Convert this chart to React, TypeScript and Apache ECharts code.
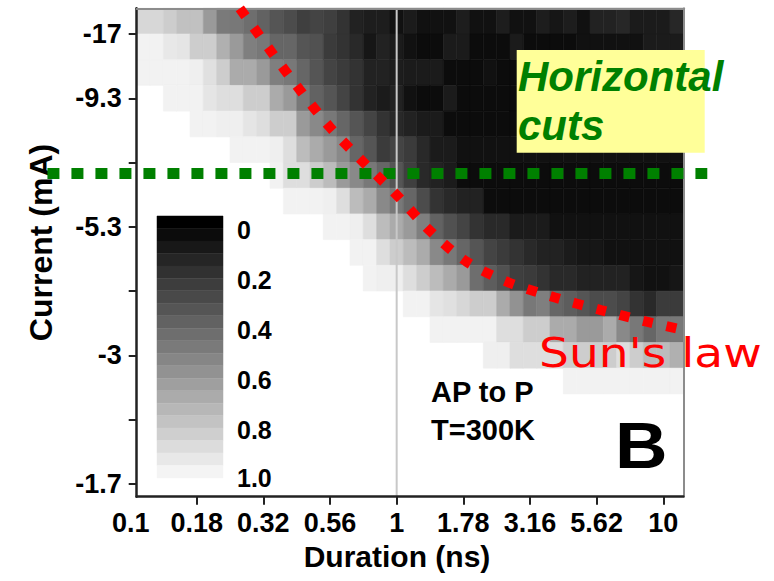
import React, { useEffect, useRef } from 'react';
import * as echarts from 'echarts';

// Pulse durations of the heat-map columns (ns)
const durationsNs = [
  0.1122, 0.1259, 0.1413, 0.1585, 0.1778, 0.1995, 0.2239, 0.2512, 0.2818, 0.3162,
  0.3548, 0.3981, 0.4467, 0.5012, 0.5623, 0.631, 0.7079, 0.7943, 0.8913, 1,
  1.122, 1.259, 1.413, 1.585, 1.778, 1.995, 2.239, 2.512, 2.818, 3.162,
  3.548, 3.981, 4.467, 5.012, 5.623, 6.31, 7.079, 7.943, 8.913, 10, 11.22,
];

// Probability per cell, first row = largest |current| (top), last row = smallest (bottom)
const probRows: number[][] = [
  [0.88,0.88,0.84,0.79,0.79,0.63,0.5,0.49,0.45,0.4,0.35,0.31,0.26,0.28,0.26,0.21,0.14,0.12,0.12,0.07,0.11,0.07,0.07,0.07,0.12,0.07,0.07,0.12,0.07,0.07,0.12,0.09,0.12,0.07,0.14,0.14,0.16,0.11,0.11,0.11,0.16],
  [0.99,0.99,0.95,0.94,0.84,0.84,0.72,0.63,0.52,0.49,0.42,0.42,0.35,0.33,0.24,0.21,0.17,0.09,0.14,0.11,0.07,0.05,0.05,0.11,0.11,0.05,0.05,0.05,0.11,0.05,0.05,0.05,0.05,0.07,0.07,0.07,0.07,0.07,0.11,0.11,0.11],
  [0.99,0.99,0.99,0.99,0.98,0.92,0.84,0.7,0.7,0.63,0.52,0.49,0.42,0.35,0.28,0.24,0.21,0.14,0.14,0.12,0.11,0.11,0.11,0.05,0.05,0.05,0.07,0.05,0.05,0.05,0.05,0.05,0.05,0.05,0.05,0.05,0.05,0.05,0.07,0.07,0.07],
  [1,1,0.99,0.99,0.99,0.94,0.91,0.91,0.84,0.84,0.7,0.63,0.49,0.4,0.35,0.28,0.21,0.14,0.11,0.14,0.07,0.05,0.05,0.11,0.05,0.05,0.05,0.05,0.05,0.05,0.05,0.05,0.05,0.05,0.05,0.05,0.05,0.05,0.05,0.05,0.05],
  [1,1,1,1,0.99,0.99,0.98,0.98,0.94,0.91,0.84,0.84,0.63,0.56,0.49,0.42,0.35,0.28,0.21,0.17,0.14,0.11,0.11,0.05,0.05,0.05,0.05,0.05,0.05,0.05,0.05,0.05,0.05,0.05,0.05,0.05,0.05,0.05,0.05,0.05,0.05],
  [1,1,1,1,1,1,1,0.99,0.99,0.99,0.98,0.91,0.77,0.7,0.63,0.56,0.42,0.35,0.24,0.28,0.24,0.17,0.11,0.11,0.07,0.07,0.07,0.07,0.07,0.07,0.07,0.07,0.07,0.07,0.07,0.07,0.07,0.07,0.07,0.07,0.07],
  [1,1,1,1,1,1,1,1,1,1,0.99,0.91,0.91,0.84,0.77,0.63,0.56,0.49,0.42,0.35,0.26,0.17,0.14,0.11,0.05,0.05,0.05,0.05,0.05,0.05,0.05,0.05,0.05,0.05,0.05,0.05,0.05,0.05,0.05,0.05,0.05],
  [1,1,1,1,1,1,1,1,1,1,1,0.99,0.99,0.99,0.98,0.91,0.77,0.7,0.56,0.49,0.42,0.31,0.21,0.17,0.14,0.14,0.05,0.05,0.05,0.05,0.05,0.05,0.05,0.05,0.05,0.05,0.05,0.05,0.05,0.05,0.05],
  [1,1,1,1,1,1,1,1,1,1,1,1,1,1,0.99,0.99,0.98,0.91,0.77,0.7,0.63,0.52,0.4,0.33,0.28,0.21,0.17,0.17,0.11,0.11,0.11,0.07,0.07,0.07,0.07,0.07,0.07,0.07,0.07,0.07,0.07],
  [1,1,1,1,1,1,1,1,1,1,1,1,1,1,1,1,0.99,0.99,0.91,0.84,0.77,0.7,0.56,0.49,0.42,0.35,0.28,0.24,0.21,0.17,0.14,0.14,0.11,0.09,0.09,0.07,0.07,0.07,0.07,0.07,0.07],
  [1,1,1,1,1,1,1,1,1,1,1,1,1,1,1,1,1,0.99,0.98,0.98,0.91,0.84,0.77,0.7,0.63,0.45,0.38,0.33,0.26,0.24,0.21,0.17,0.17,0.14,0.14,0.14,0.14,0.09,0.07,0.07,0.09],
  [1,1,1,1,1,1,1,1,1,1,1,1,1,1,1,1,1,1,1,1,0.99,0.99,0.94,0.92,0.88,0.84,0.84,0.7,0.6,0.49,0.52,0.42,0.38,0.35,0.31,0.31,0.28,0.21,0.17,0.24,0.24],
  [1,1,1,1,1,1,1,1,1,1,1,1,1,1,1,1,1,1,1,1,1,1,0.99,0.99,0.99,0.99,0.99,0.91,0.91,0.84,0.84,0.7,0.7,0.63,0.63,0.7,0.56,0.49,0.42,0.49,0.49],
  [1,1,1,1,1,1,1,1,1,1,1,1,1,1,1,1,1,1,1,1,1,1,1,1,1,1,0.98,0.98,0.91,0.91,0.91,0.91,0.84,0.84,0.84,0.84,0.91,0.84,0.77,0.77,0.72],
  [1,1,1,1,1,1,1,1,1,1,1,1,1,1,1,1,1,1,1,1,1,1,1,1,1,1,1,1,1,1,1,1,0.99,0.99,0.99,0.99,0.99,0.99,0.99,0.99,0.99],
  [1,1,1,1,1,1,1,1,1,1,1,1,1,1,1,1,1,1,1,1,1,1,1,1,1,1,1,1,1,1,1,1,1,1,1,1,1,1,1,1,1],
  [1,1,1,1,1,1,1,1,1,1,1,1,1,1,1,1,1,1,1,1,1,1,1,1,1,1,1,1,1,1,1,1,1,1,1,1,1,1,1,1,1],
  [1,1,1,1,1,1,1,1,1,1,1,1,1,1,1,1,1,1,1,1,1,1,1,1,1,1,1,1,1,1,1,1,1,1,1,1,1,1,1,1,1],
  [1,1,1,1,1,1,1,1,1,1,1,1,1,1,1,1,1,1,1,1,1,1,1,1,1,1,1,1,1,1,1,1,1,1,1,1,1,1,1,1,1],
];

// Tick labels
const xTickValuesNs = [0.1, 0.1778, 0.3162, 0.5623, 1, 1.778, 3.162, 5.623, 10];
const xTickLabels = ['0.1', '0.18', '0.32', '0.56', '1', '1.78', '3.16', '5.62', '10'];
const yTickRows = [0.5, 3, 5.5, 8, 10.5, 13, 15.5, 18];
const yLabelRows = [0.5, 5.5, 10.5, 15.5, 18];
const yTickLabels = ['-1.7', '-3', '-5.3', '-9.3', '-17'];

// Colour-bar steps and labels
const colorbarSteps = [0, 0.05, 0.1, 0.15, 0.2, 0.25, 0.3, 0.35, 0.4, 0.45, 0.5, 0.55, 0.6, 0.65, 0.7, 0.75, 0.8, 0.85, 0.9, 0.95, 1.0];
const colorbarLabels = ['0', '0.2', '0.4', '0.6', '0.8', '1.0'];
const colorbarLabelPos = [0.056, 0.256, 0.456, 0.656, 0.856, 1.05];

// Sun's law curve
const sunLawNs = [0.258, 0.337, 0.4315, 0.559, 0.7455, 1.0, 1.334, 1.83, 2.636, 3.926, 5.834, 8.66, 11.21];
const sunLawRow = [19.0, 17.34, 15.85, 14.4, 13.04, 11.74, 10.34, 9.14, 8.33, 7.75, 7.26, 6.81, 6.545];

// Horizontal cut and reference line
const cutRow = 12.57;
const cutFromNs = 0.049;
const cutToNs = 14.62;
const refDurationNs = 1;

const FONT = "'Liberation Sans', Arial, Helvetica, sans-serif";
const X_MIN = -0.975;
const X_MAX = 1.075;
const ROWS = 19;
const CELL_HALF = 0.025;

const gray = (v: number) => {
  const g = Math.round(244 * Math.max(0, Math.min(1, v)));
  return `rgb(${g},${g},${g})`;
};

export default function App() {
  const ref = useRef<HTMLDivElement>(null);

  useEffect(() => {
    if (!ref.current) return;
    const chart = echarts.init(ref.current, null, { renderer: 'svg' });

    const cells: number[][] = [];
    probRows.forEach((row, r) => {
      const yIndex = probRows.length - 1 - r;
      row.forEach((v, c) => {
        if (v < 1) cells.push([Math.log10(durationsNs[c]), yIndex, v]);
      });
    });

    const xLabelPos = xTickValuesNs.map((v) => Math.max(Math.log10(v), X_MIN));
    const xTickPos = xTickValuesNs.map((v) => Math.log10(v)).filter((v) => v > X_MIN + 1e-6);

    const tickFont = { fontSize: 27, fontWeight: 'bold' as const, color: '#000', fontFamily: FONT };

    const option: any = {
      animation: false,
      backgroundColor: '#fff',
      grid: [
        { left: 136.7, top: 8.3, width: 546.6, height: 488.4, containLabel: false },
        { left: 157, top: 216, width: 66, height: 262, containLabel: false },
      ],
      xAxis: [
        {
          gridIndex: 0, type: 'value', min: X_MIN, max: X_MAX, z: 10,
          splitLine: { show: false },
          axisLine: { show: true, onZero: false, lineStyle: { color: '#222', width: 2.5 } },
          axisTick: { show: true, customValues: xTickPos, length: 8, lineStyle: { color: '#222', width: 2 } },
          axisLabel: {
            customValues: xLabelPos, margin: 13, ...tickFont,
            formatter: (val: number) => {
              const j = xLabelPos.findIndex((p) => Math.abs(p - val) < 1e-6);
              if (j < 0) return '';
              return j === 0 ? `{first|${xTickLabels[0]}}` : xTickLabels[j];
            },
            rich: { first: { ...tickFont, padding: [0, 12, 0, 0] } },
          },
          name: 'Duration (ns)', nameLocation: 'middle', nameGap: 45,
          nameTextStyle: { fontSize: 30, fontWeight: 'bold', color: '#000', fontFamily: FONT, padding: [0, 26, 0, 0] },
        },
        {
          gridIndex: 0, type: 'value', min: X_MIN, max: X_MAX, position: 'top', z: 10,
          splitLine: { show: false }, axisTick: { show: false }, axisLabel: { show: false },
          axisLine: { show: true, onZero: false, lineStyle: { color: '#8c8c8c', width: 2 } },
        },
        { gridIndex: 1, type: 'value', min: 0, max: 1, show: false },
      ],
      yAxis: [
        {
          gridIndex: 0, type: 'value', min: 0, max: ROWS, z: 10,
          splitLine: { show: false },
          axisLine: { show: true, onZero: false, lineStyle: { color: '#222', width: 2.5 } },
          axisTick: { show: true, customValues: yTickRows, length: 8, lineStyle: { color: '#222', width: 2 } },
          axisLabel: {
            customValues: yLabelRows, margin: 15, ...tickFont,
            formatter: (val: number) => {
              const j = yLabelRows.findIndex((p) => Math.abs(p - val) < 1e-6);
              return j < 0 ? '' : yTickLabels[j];
            },
          },
          name: 'Current (mA)', nameLocation: 'middle', nameGap: 80,
          nameTextStyle: { fontSize: 32, fontWeight: 'bold', color: '#000', fontFamily: FONT, padding: [0, 0, 0, 20] },
        },
        {
          gridIndex: 0, type: 'value', min: 0, max: ROWS, position: 'right', z: 10,
          splitLine: { show: false }, axisTick: { show: false }, axisLabel: { show: false },
          axisLine: { show: true, onZero: false, lineStyle: { color: '#8c8c8c', width: 2 } },
        },
        {
          gridIndex: 1, type: 'value', min: 0, max: 1.05, inverse: true, position: 'right',
          splitLine: { show: false }, axisTick: { show: false }, axisLine: { show: false },
          axisLabel: {
            customValues: colorbarLabelPos, margin: 14, fontSize: 25, fontWeight: 'bold', color: '#000', fontFamily: FONT,
            formatter: (val: number) => {
              const j = colorbarLabelPos.findIndex((p) => Math.abs(p - val) < 1e-6);
              return j < 0 ? '' : colorbarLabels[j];
            },
          },
        },
      ],
      series: [
        {
          type: 'custom', xAxisIndex: 0, yAxisIndex: 0, z: 2,
          data: cells,
          renderItem: (params: any, api: any) => {
            const x = api.value(0);
            const y = api.value(1);
            const v = api.value(2);
            const p0 = api.coord([x - CELL_HALF, y + 1]);
            const p1 = api.coord([x + CELL_HALF, y]);
            const c = gray(v);
            return {
              type: 'rect',
              shape: { x: p0[0], y: p0[1], width: p1[0] - p0[0], height: p1[1] - p0[1] },
              style: { fill: c, stroke: c, lineWidth: 0.6 },
            };
          },
        },
        {
          type: 'line', xAxisIndex: 0, yAxisIndex: 0, z: 4, symbol: 'none', silent: true,
          data: [[Math.log10(refDurationNs), 0], [Math.log10(refDurationNs), ROWS]],
          lineStyle: { color: '#c8c8c8', width: 2 },
        },
        {
          type: 'line', xAxisIndex: 0, yAxisIndex: 0, z: 21, symbol: 'none', clip: false, silent: true, smooth: 0.3,
          data: sunLawNs.map((d, i) => [Math.log10(d), sunLawRow[i]]),
          lineStyle: { color: '#ff0000', width: 10, type: [10, 14], cap: 'butt' },
        },
        {
          type: 'custom', xAxisIndex: 2, yAxisIndex: 2, z: 5,
          data: colorbarSteps.map((v) => [v]),
          renderItem: (params: any, api: any) => {
            const v = api.value(0);
            const p0 = api.coord([0, v]);
            const p1 = api.coord([1, v + 0.05]);
            const c = gray(v);
            return {
              type: 'rect',
              shape: { x: p0[0], y: Math.min(p0[1], p1[1]), width: p1[0] - p0[0], height: Math.abs(p1[1] - p0[1]) },
              style: { fill: c, stroke: c, lineWidth: 0.5 },
            };
          },
        },
      ],
    };

    chart.setOption(option);

    // Horizontal cut line: it reaches beyond the plot, so map its data ends through the axes' scales
    const xa = chart.convertToPixel({ xAxisIndex: 0 }, X_MIN) as number;
    const xb = chart.convertToPixel({ xAxisIndex: 0 }, X_MAX) as number;
    const ya = chart.convertToPixel({ yAxisIndex: 0 }, 0) as number;
    const yb = chart.convertToPixel({ yAxisIndex: 0 }, ROWS) as number;
    const pxX = (xl: number) => xa + ((xl - X_MIN) / (X_MAX - X_MIN)) * (xb - xa);
    const pxY = (r: number) => ya + (r / ROWS) * (yb - ya);
    const cutY = pxY(cutRow);

    chart.setOption({
      graphic: [
        {
          type: 'line', z: 20, silent: true,
          shape: { x1: pxX(Math.log10(cutFromNs)), y1: cutY, x2: pxX(Math.log10(cutToNs)), y2: cutY },
          style: { stroke: '#008000', lineWidth: 11, lineDash: [12, 12], lineCap: 'butt' },
        },
        { type: 'rect', z: 30, shape: { x: 516.7, y: 50, width: 188, height: 102.7 }, style: { fill: '#ffff99' } },
        { type: 'text', z: 31, x: 518, y: 76, style: { text: 'Horizontal', fontSize: 42, fontWeight: 'bold', fontStyle: 'italic', fontFamily: FONT, fill: '#008000', align: 'left', verticalAlign: 'middle' } },
        { type: 'text', z: 31, x: 518, y: 125.5, style: { text: 'cuts', fontSize: 42, fontWeight: 'bold', fontStyle: 'italic', fontFamily: FONT, fill: '#008000', align: 'left', verticalAlign: 'middle' } },
        { type: 'text', z: 31, x: 539, y: 353, scaleX: 1.15, style: { text: "Sun's law", fontSize: 41, fontFamily: "'DejaVu Sans', Verdana, sans-serif", fill: '#ff0000', align: 'left', verticalAlign: 'middle' } },
        { type: 'text', z: 31, x: 431, y: 392, style: { text: 'AP to P', fontSize: 29, fontWeight: 'bold', fontFamily: FONT, fill: '#000', align: 'left', verticalAlign: 'middle' } },
        { type: 'text', z: 31, x: 431, y: 430, style: { text: 'T=300K', fontSize: 29, fontWeight: 'bold', fontFamily: FONT, fill: '#000', align: 'left', verticalAlign: 'middle' } },
        { type: 'text', z: 31, x: 615, y: 445.6, scaleX: 1.12, style: { text: 'B', fontSize: 65, fontWeight: 'bold', fontFamily: FONT, fill: '#000', align: 'left', verticalAlign: 'middle' } },
      ],
    });

    return () => chart.dispose();
  }, []);

  return (
    <div
      ref={ref}
      style={{ position: 'fixed', left: 0, top: 0, width: 774, height: 581, background: '#fff' }}
    />
  );
}
